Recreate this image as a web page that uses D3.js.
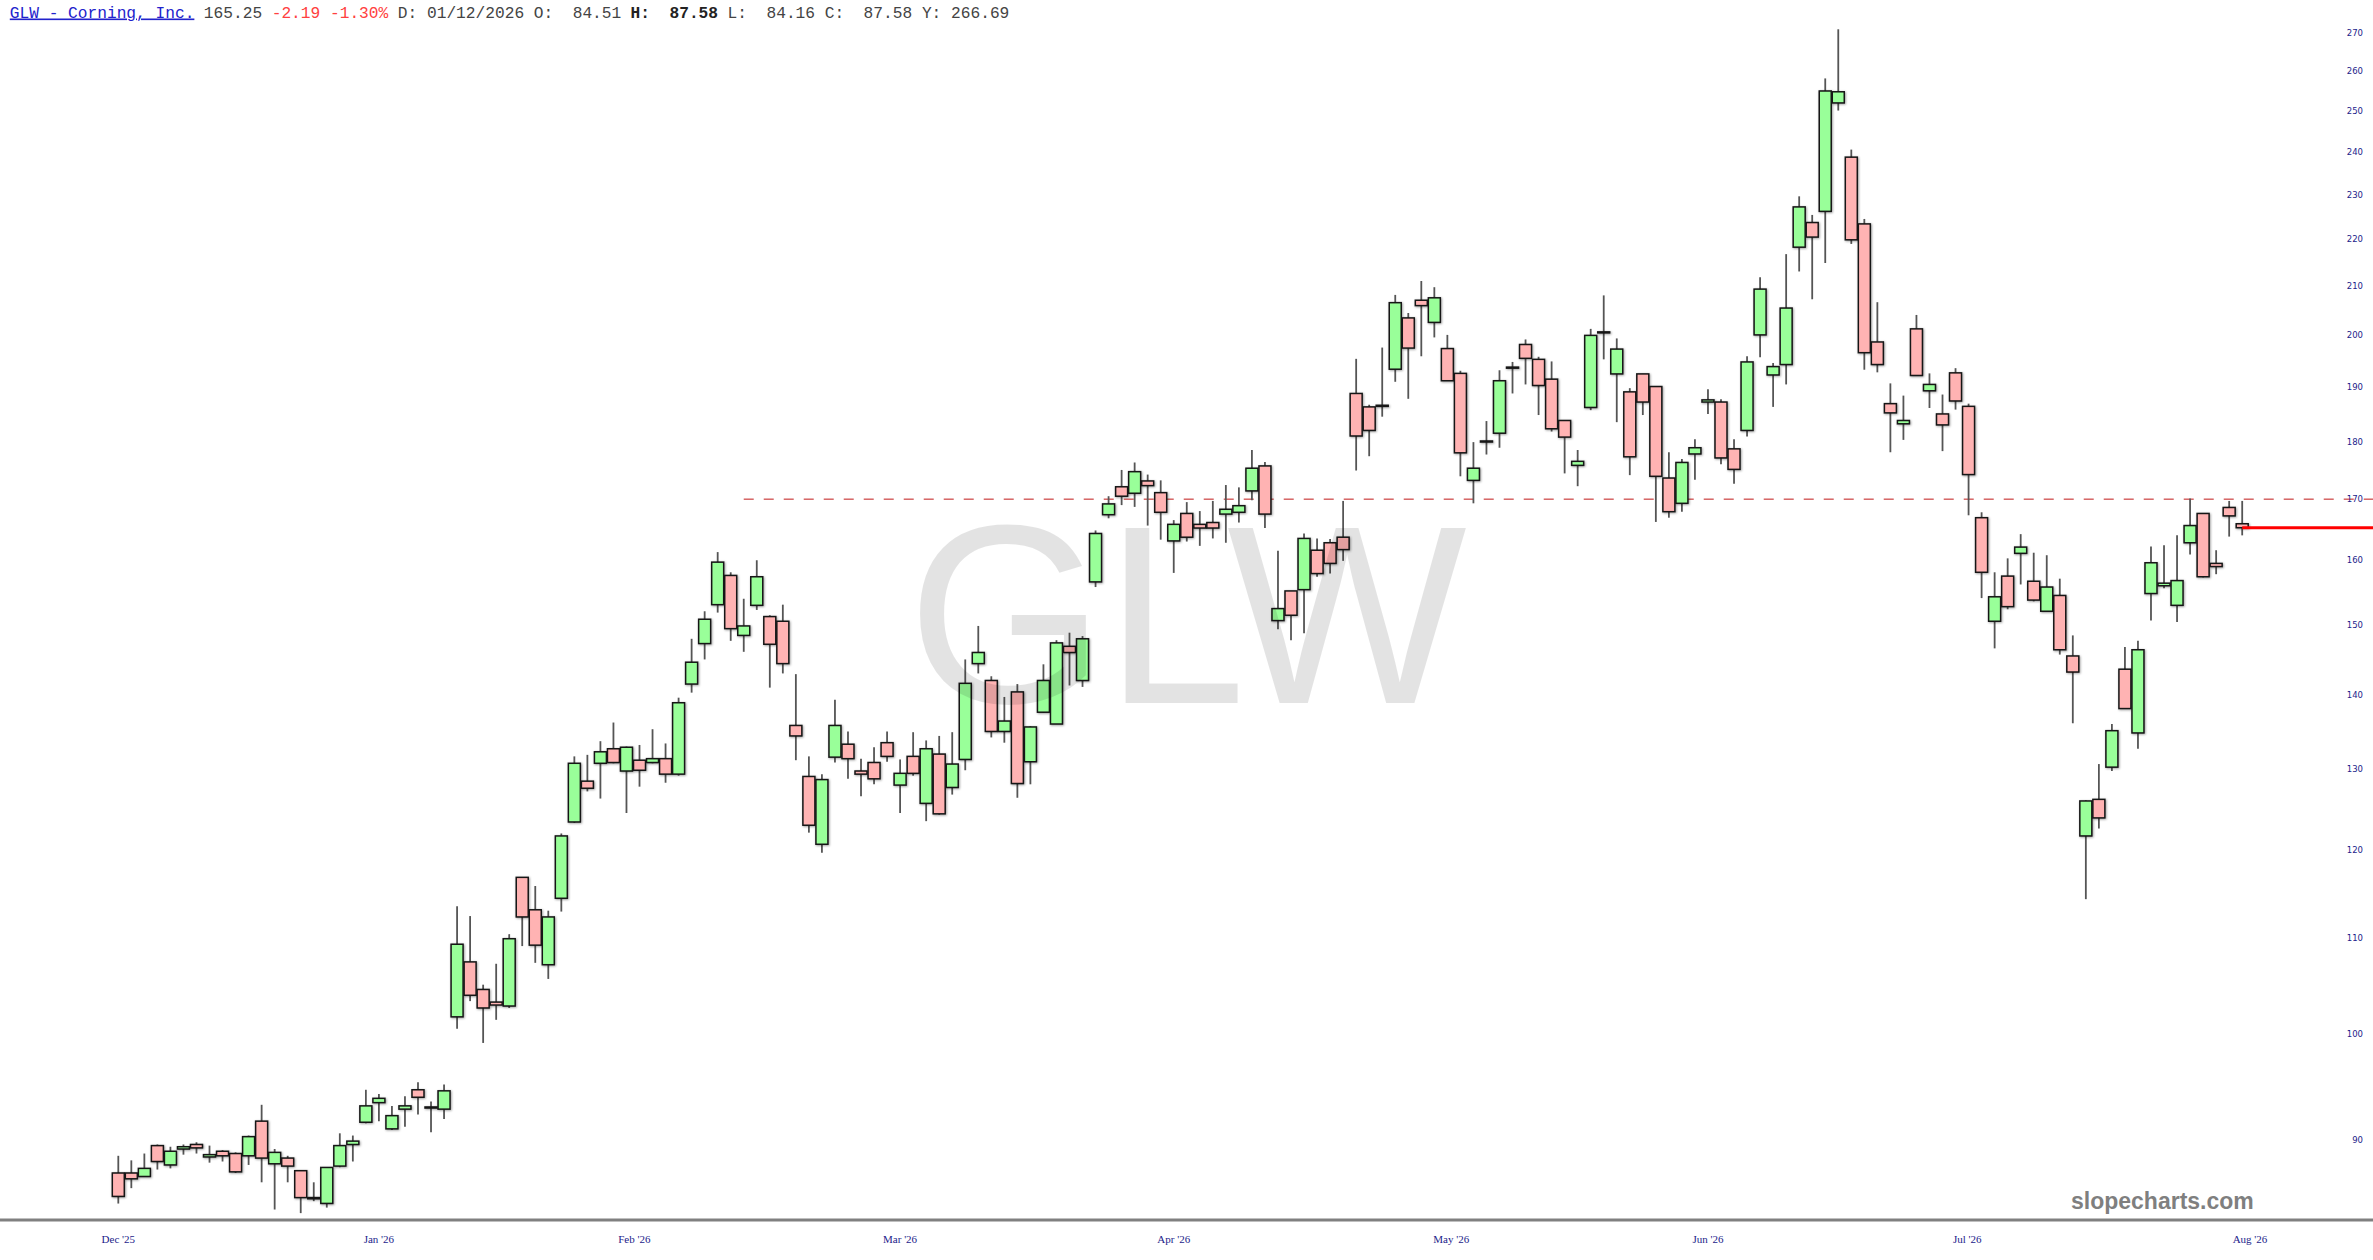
<!DOCTYPE html>
<html><head><meta charset="utf-8">
<script src="https://cdn.jsdelivr.net/npm/d3@7"></script>
<style>html,body{margin:0;padding:0;background:#fff;overflow:hidden}</style>
</head><body>
<svg id="chart" width="2373" height="1260"></svg>
<script>
const opens = [87.1,87.1,86.8,89.5,87.8,89.2,89.6,88.5,89.0,88.8,
 88.6,91.7,87.9,88.4,87.3,85.0,84.51,87.7,89.6,91.6,
 93.4,91.0,92.8,94.6,93.0,92.8,101.7,107.4,104.5,103.2,
 102.8,116.8,113.1,107.1,114.4,123.4,128.5,130.8,132.7,129.8,
 131.2,130.9,131.4,129.4,141.5,147.3,153.1,157.6,148.5,153.0,
 151.3,150.6,135.8,129.1,120.7,131.6,133.3,129.8,130.9,133.5,
 128.0,131.7,125.7,132.0,127.7,131.3,144.4,142.0,135.0,140.4,
 131.0,137.6,136.0,146.9,142.0,156.6,167.4,172.1,171.0,173.1,
 171.1,163.1,167.6,165.8,166.1,167.5,167.8,171.4,175.7,150.7,
 155.2,155.4,161.6,162.8,163.7,188.8,186.3,186.6,193.4,203.5,
 207.1,202.6,197.4,192.6,173.2,180.1,181.5,193.8,198.2,195.3,
 191.5,183.8,175.8,186.2,200.7,192.5,189.1,192.5,190.1,173.6,
 169.3,177.8,187.2,187.2,178.7,182.0,200.1,192.3,194.3,218.3,
 223.7,226.2,251.9,238.7,223.4,198.7,186.9,183.2,201.3,189.3,
 185.0,192.7,186.4,166.9,150.6,157.5,161.1,156.7,152.1,154.5,
 145.5,121.7,126.2,130.3,143.6,134.8,154.8,156.0,153.0,162.8,
 167.6,159.5,168.6,165.9];
const highs = [88.6,88.2,88.8,89.6,89.4,89.6,89.8,89.5,89.1,88.9,
 90.4,93.2,89.2,88.6,87.3,86.3,87.58,90.6,90.4,94.6,
 94.2,93.1,94.0,95.3,93.5,95.1,113.5,112.4,105.0,107.2,
 110.4,116.8,115.8,113.0,122.0,131.7,131.9,133.7,136.2,133.0,
 133.2,135.3,133.4,139.6,148.0,152.1,161.3,158.1,154.0,160.0,
 151.5,153.1,142.9,131.7,129.4,139.3,135.0,131.4,132.9,135.0,
 131.3,134.9,133.8,134.4,134.9,145.0,149.9,142.6,139.7,141.5,
 135.7,144.3,147.8,148.9,148.4,164.8,170.5,175.0,176.3,174.2,
 173.2,166.5,169.5,168.0,169.7,172.4,172.0,178.5,176.4,161.5,
 155.2,164.3,163.5,163.4,169.7,195.4,186.7,197.6,208.2,204.5,
 211.1,209.8,200.1,193.1,179.9,183.7,193.2,194.8,199.2,195.8,
 194.9,183.8,178.5,201.3,208.1,199.4,189.8,192.5,190.1,178.1,
 176.9,180.4,189.6,187.7,180.4,195.9,211.9,194.6,216.8,229.6,
 225.4,258.1,271.0,240.5,224.5,206.7,190.7,188.4,204.1,192.6,
 188.6,193.6,186.9,167.8,158.1,160.3,164.2,161.2,160.8,157.1,
 148.5,126.1,130.7,136.0,146.8,147.7,162.2,162.4,164.0,170.1,
 167.6,161.6,169.7,169.7];
const lows = [84.5,85.8,86.8,87.4,87.5,88.7,88.8,88.0,88.1,87.1,
 87.8,86.3,84.0,86.3,83.7,84.7,84.16,87.6,88.1,91.5,
 91.7,90.9,91.2,92.3,90.7,91.9,100.5,103.3,99.1,101.4,
 102.6,109.1,107.3,105.6,112.9,123.3,127.2,126.3,130.8,124.5,
 127.8,130.8,128.3,129.2,140.3,145.0,151.9,147.7,146.1,152.3,
 141.0,143.0,131.2,122.1,119.7,130.9,128.8,126.6,128.1,131.0,
 124.5,129.2,123.5,124.3,126.8,129.9,143.0,134.2,133.5,126.4,
 128.1,137.5,136.0,141.3,141.1,155.8,166.8,169.0,168.7,165.6,
 163.3,158.0,163.0,162.3,163.5,162.8,166.1,169.8,165.2,149.4,
 147.8,148.8,157.4,157.9,159.9,174.9,177.4,184.5,191.0,187.8,
 195.9,199.6,191.2,173.9,169.3,177.7,178.9,188.8,190.5,184.8,
 181.8,174.4,172.2,185.7,195.3,183.5,174.1,184.8,166.2,166.9,
 167.9,173.3,185.0,176.0,172.6,180.9,195.7,186.3,190.5,213.1,
 207.3,214.9,250.0,219.0,193.3,192.8,178.1,180.3,192.1,186.1,
 178.3,185.8,167.3,154.1,146.6,152.4,156.2,153.6,152.0,145.7,
 136.1,114.3,122.6,129.8,138.1,132.7,150.7,155.6,150.5,160.9,
 157.3,157.8,163.8,164.0];
const closes = [85.1,86.6,87.5,88.1,89.0,89.4,89.3,88.7,88.6,87.2,
 90.3,88.4,88.9,87.7,85.0,84.9,87.58,89.5,89.9,93.1,
 93.8,92.2,93.1,93.9,92.9,94.5,109.3,103.9,102.6,102.9,
 109.9,112.3,109.2,112.3,121.7,130.8,127.6,132.3,130.9,132.9,
 129.9,131.4,129.4,138.9,144.6,150.9,159.7,149.5,149.9,157.4,
 147.2,144.4,134.4,123.0,128.7,135.8,131.4,129.4,128.8,131.7,
 129.5,129.5,132.7,124.4,130.7,141.6,146.0,135.0,136.4,128.2,
 135.6,142.0,147.4,146.0,148.0,164.3,169.2,170.5,174.7,172.3,
 167.8,165.8,163.7,165.2,165.2,168.3,168.9,175.3,167.5,152.5,
 151.5,163.5,157.9,159.5,161.7,181.0,182.0,186.4,206.6,197.5,
 206.0,207.6,191.2,178.0,175.3,180.0,191.2,193.6,195.5,190.3,
 182.3,180.8,176.5,200.0,200.5,197.3,177.3,187.2,173.9,167.9,
 176.3,178.9,187.6,177.1,175.1,194.8,209.4,193.9,205.5,227.2,
 220.5,254.9,254.7,219.9,196.6,194.3,185.2,183.8,192.2,190.5,
 183.0,187.4,174.2,158.1,154.3,152.8,162.1,153.8,155.8,146.4,
 143.2,126.0,123.9,135.1,138.1,146.4,159.6,156.4,156.8,165.6,
 157.4,159.0,167.2,165.25];

const monthLabels = ["Dec '25","Jan '26","Feb '26","Mar '26","Apr '26","May '26","Jun '26","Jul '26","Aug '26"];
const monthPos = [0, 20, 39.6, 60, 81, 102.3, 122, 141.9, 163.6];
const yTicks = [90,100,110,120,130,140,150,160,170,180,190,200,210,220,230,240,250,260,270];
const levelPrice = 170;
const levelStartIdx = 48;
const lastClose = 165.25;
const watermark = "GLW";
const brand = "slopecharts.com";
const headerParts = [
  {t:"GLW - Corning, Inc.", k:"title"},
  {t:" 165.25 ", k:"n"},
  {t:"-2.19 -1.30%", k:"red"},
  {t:" D: 01/12/2026 O:  84.51 ", k:"n"},
  {t:"H:  87.58", k:"b"},
  {t:" L:  84.16 C:  87.58 Y: 266.69", k:"n"}
];

const W = 2373, H = 1260;
const svg = d3.select("#chart");
const data = opens.map((o,i)=>({i, o, h:highs[i], l:lows[i], c:closes[i]}));

const x = d3.scaleLinear().domain([0, 163]).range([118.3, 2242.2]);
const y = d3.scaleLog().domain([90, 270]).range([1140, 33]);

const defs = svg.append("defs");
const f = defs.append("filter").attr("id","sh").attr("x","-20%").attr("y","-20%").attr("width","140%").attr("height","140%");
f.append("feDropShadow").attr("dx",0.8).attr("dy",0.8).attr("stdDeviation",0.8)
 .attr("flood-color","#000").attr("flood-opacity",0.4);

// level line (dashed)
svg.append("line")
  .attr("x1", x(levelStartIdx)).attr("x2", W)
  .attr("y1", y(levelPrice)).attr("y2", y(levelPrice))
  .attr("stroke","#c01818").attr("stroke-width",1).attr("stroke-dasharray","10,10");

// wicks
svg.append("g").selectAll("line").data(data).join("line")
  .attr("x1", d=>x(d.i)).attr("x2", d=>x(d.i))
  .attr("y1", d=>y(d.h)).attr("y2", d=>y(d.l))
  .attr("stroke","#555").attr("stroke-width",1.8);

// bodies
const bw = 12;
svg.append("g").attr("filter","url(#sh)").selectAll("rect").data(data).join("rect")
  .attr("x", d=>x(d.i)-bw/2).attr("width", bw)
  .attr("y", d=>y(Math.max(d.o,d.c)))
  .attr("height", d=>Math.max(1, Math.abs(y(d.o)-y(d.c))))
  .attr("fill", d=> d.c>=d.o ? "#99ff99" : "#ffb3b3")
  .attr("stroke","#151515").attr("stroke-width",1.5);

// last close line
svg.append("line")
  .attr("x1", x(163)).attr("x2", W)
  .attr("y1", y(lastClose)).attr("y2", y(lastClose))
  .attr("stroke","#ff0000").attr("stroke-width",3);

// watermark (translucent, on top)
svg.append("text").text(watermark)
  .attr("x", 1187).attr("y", 703).attr("text-anchor","middle")
  .attr("font-family","Liberation Sans, Arial, sans-serif").attr("font-size",254)
  .attr("fill","#000").attr("fill-opacity",0.11);

// y tick labels
svg.append("g").selectAll("text").data(yTicks).join("text")
  .attr("x", 2363).attr("y", d=>y(d)).attr("dy","0.35em")
  .attr("text-anchor","end")
  .attr("font-family","DejaVu Sans, Verdana, sans-serif").attr("font-size",8.5)
  .attr("fill","#1c1c8a").text(d=>d);

// x axis line
svg.append("line").attr("x1",0).attr("x2",W).attr("y1",1220).attr("y2",1220)
  .attr("stroke","#808080").attr("stroke-width",3);

// month labels
svg.append("g").selectAll("text").data(monthLabels).join("text")
  .attr("x", (d,i)=>x(monthPos[i])).attr("y", 1243)
  .attr("text-anchor","middle")
  .attr("font-family","Liberation Serif, Times New Roman, serif").attr("font-size",11)
  .attr("fill","#1c1c8a").text(d=>d);

// brand
svg.append("text").text(brand)
  .attr("x", 2071).attr("y", 1209)
  .attr("font-family","Liberation Sans, Arial, sans-serif").attr("font-weight","bold").attr("font-size",23)
  .attr("fill","#7f7f7f");

// header
const cw = 9.7, hx0 = 9.8;
let off = 0;
const hg = svg.append("g");
headerParts.forEach(p=>{
  const t = hg.append("text")
    .attr("x", hx0 + off*cw).attr("y", 17.5)
    .attr("font-family","Liberation Mono, Courier New, monospace").attr("font-size",16.2)
    .style("white-space","pre").attr("xml:space","preserve")
    .text(p.t);
  if (p.k==="title") t.attr("fill","#2222cc").style("text-decoration","underline");
  else if (p.k==="red") t.attr("fill","#ff4040");
  else if (p.k==="b") t.attr("fill","#222").attr("font-weight","bold");
  else t.attr("fill","#444");
  off += p.t.length;
});
</script>
</body></html>
